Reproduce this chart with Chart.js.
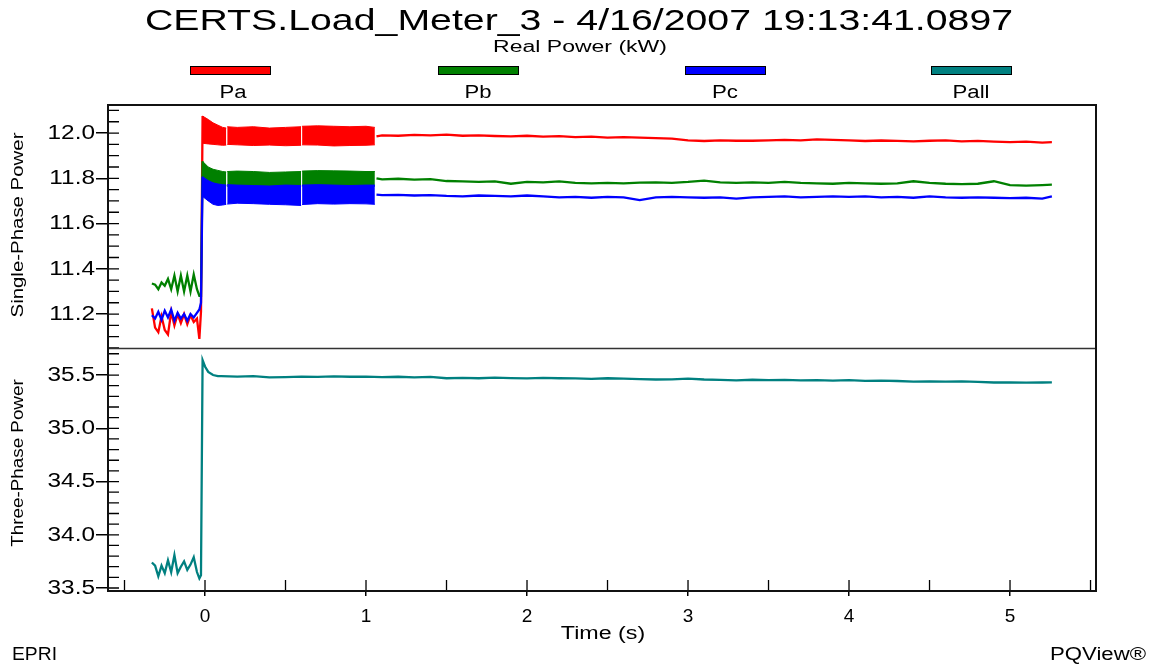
<!DOCTYPE html>
<html lang="en">
<head>
<meta charset="UTF-8">
<title>CERTS.Load_Meter_3 - Real Power (kW)</title>
<script src="https://cdn.jsdelivr.net/npm/chart.js"></script>
<style>
  html, body { margin: 0; padding: 0; background: #fff; }
  .page { position: relative; width: 1156px; height: 666px; overflow: hidden;
          font-family: 'Liberation Sans', Arial, sans-serif; color: #000; }
  #grafico { position: absolute; left: 0; top: 0; }
  .txt { position: absolute; white-space: nowrap; line-height: 1; }
  .caixa { position: absolute; top: 66px; width: 79px; height: 7px; border: 1px solid #000; }
</style>
</head>
<body>
<div class="page">
  <canvas id="grafico" width="1156" height="666"></canvas>

  <div class="txt" style="left:579px;top:5px;font-size:30px" data-w="868">CERTS.Load_Meter_3 - 4/16/2007 19:13:41.0897</div>
  <div class="txt" style="left:580px;top:39px;font-size:16px" data-w="174">Real Power (kW)</div>

  <div class="caixa" style="left:190px;background:#ff0000"></div>
  <div class="caixa" style="left:438px;background:#008000"></div>
  <div class="caixa" style="left:685px;background:#0000ff"></div>
  <div class="caixa" style="left:931px;background:#008080"></div>
  <div class="txt" style="left:233px;top:83px;font-size:18px" data-w="27">Pa</div>
  <div class="txt" style="left:478px;top:83px;font-size:18px" data-w="27">Pb</div>
  <div class="txt" style="left:725px;top:83px;font-size:18px" data-w="26">Pc</div>
  <div class="txt" style="left:971px;top:83px;font-size:18px" data-w="37">Pall</div>

  <div class="txt" style="left:18px;top:225px;font-size:16px" data-w="185" data-rot="1">Single-Phase Power</div>
  <div class="txt" style="left:18px;top:463px;font-size:16px" data-w="167" data-rot="1">Three-Phase Power</div>

  <div class="txt" style="left:603px;top:624px;font-size:18px" data-w="84">Time (s)</div>
  <div class="txt" style="left:12px;top:645px;font-size:18px;transform-origin:left" data-w="45" data-left="1">EPRI</div>
  <div class="txt" style="left:1050px;top:645px;font-size:18px;transform-origin:left" data-w="96" data-left="1">PQView®</div>
</div>

<script>
// tick labels
const xTickVals = [0, 1, 2, 3, 4, 5];
const phaseTickVals = [11.2, 11.4, 11.6, 11.8, 12.0];
const totalTickVals = [33.5, 34.0, 34.5, 35.0, 35.5];

// before the load step (s)
const timePre = [-0.33, -0.31, -0.29, -0.27, -0.25, -0.23, -0.21, -0.19, -0.17, -0.15,
                 -0.13, -0.11, -0.09, -0.07, -0.05, -0.035, -0.025, -0.015];
const paPre = [11.225, 11.14, 11.12, 11.19, 11.13, 11.11, 11.21, 11.15, 11.20, 11.16,
               11.20, 11.155, 11.195, 11.165, 11.18, 11.09, 11.21, 12.075];
const pbPre = [11.335, 11.33, 11.31, 11.34, 11.325, 11.355, 11.31, 11.37, 11.30, 11.37,
               11.30, 11.37, 11.30, 11.375, 11.31, 11.28, 11.28, 11.875];
const pcPre = [11.195, 11.18, 11.21, 11.175, 11.215, 11.185, 11.22, 11.17, 11.205, 11.18,
               11.20, 11.17, 11.20, 11.185, 11.205, 11.22, 11.25, 11.807];
const pallPre = [33.74, 33.71, 33.61, 33.71, 33.64, 33.76, 33.65, 33.81, 33.64, 33.70,
                 33.75, 33.67, 33.72, 33.79, 33.65, 33.59, 33.62, 35.64];

// oscillating interval right after the step: upper / lower envelopes (null = dropout)
const timeBand = [-0.015, 0.02, 0.05, 0.08, 0.11, 0.132, 0.135, 0.138, 0.2, 0.3,
                  0.4, 0.5, 0.597, 0.6, 0.603, 0.7, 0.8, 0.9, 1.0, 1.055];
const paBandHi = [12.075, 12.06, 12.045, 12.035, 12.025, 12.022, null, 12.028, 12.025, 12.028,
                  12.022, 12.025, 12.028, null, 12.03, 12.032, 12.03, 12.028, 12.03, 12.025];
const paBandLo = [11.955, 11.952, 11.95, 11.948, 11.946, 11.947, null, 11.95, 11.948, 11.945,
                  11.947, 11.944, 11.946, null, 11.948, 11.947, 11.943, 11.945, 11.946, 11.948];
const pbBandHi = [11.875, 11.85, 11.84, 11.835, 11.83, 11.828, null, 11.83, 11.832, 11.83,
                  11.826, 11.828, 11.83, null, 11.832, 11.834, 11.833, 11.832, 11.83, 11.83];
const pbBandLo = [11.77, 11.765, 11.762, 11.765, 11.764, 11.766, null, 11.765, 11.763, 11.766,
                  11.764, 11.762, 11.764, null, 11.766, 11.765, 11.763, 11.766, 11.764, 11.765];
const pcBandHi = [11.807, 11.79, 11.78, 11.775, 11.772, 11.77, null, 11.772, 11.77, 11.768,
                  11.766, 11.77, 11.768, null, 11.77, 11.772, 11.77, 11.768, 11.77, 11.77];
const pcBandLo = [11.72, 11.70, 11.685, 11.68, 11.682, 11.685, null, 11.686, 11.69, 11.688,
                  11.685, 11.683, 11.68, null, 11.684, 11.688, 11.686, 11.688, 11.687, 11.685];

// settled part
const timeSteady = [1.065, 1.1, 1.2, 1.3, 1.4, 1.5, 1.6, 1.7, 1.8, 1.9, 2.0,
                    2.1, 2.2, 2.3, 2.4, 2.5, 2.6, 2.7, 2.8, 2.9, 3.0,
                    3.1, 3.2, 3.3, 3.4, 3.5, 3.6, 3.7, 3.8, 3.9, 4.0,
                    4.1, 4.2, 4.3, 4.4, 4.5, 4.6, 4.7, 4.8, 4.9, 5.0,
                    5.1, 5.2, 5.26];
const paSteady = [11.985, 11.99, 11.988, 11.992, 11.99, 11.993, 11.988, 11.99, 11.987, 11.985, 11.988,
                  11.984, 11.986, 11.982, 11.984, 11.98, 11.982, 11.98, 11.978, 11.975, 11.968,
                  11.965, 11.968, 11.966, 11.966, 11.968, 11.97, 11.968, 11.972, 11.97, 11.968,
                  11.965, 11.967, 11.965, 11.963, 11.966, 11.968, 11.963, 11.965, 11.962, 11.96,
                  11.962, 11.958, 11.96];
const pbSteady = [11.80, 11.795, 11.798, 11.794, 11.796, 11.788, 11.786, 11.784, 11.786, 11.776, 11.784,
                  11.782, 11.786, 11.78, 11.778, 11.78, 11.778, 11.781, 11.782, 11.78, 11.784,
                  11.79, 11.782, 11.78, 11.782, 11.78, 11.784, 11.78, 11.778, 11.776, 11.78,
                  11.778, 11.776, 11.778, 11.787, 11.78, 11.776, 11.774, 11.776, 11.787, 11.77,
                  11.768, 11.77, 11.772];
const pcSteady = [11.728, 11.726, 11.727, 11.724, 11.726, 11.722, 11.72, 11.724, 11.722, 11.72, 11.724,
                  11.72, 11.716, 11.718, 11.714, 11.718, 11.716, 11.704, 11.716, 11.718, 11.716,
                  11.714, 11.716, 11.71, 11.716, 11.718, 11.72, 11.716, 11.718, 11.72, 11.718,
                  11.72, 11.716, 11.718, 11.714, 11.72, 11.716, 11.714, 11.716, 11.714, 11.712,
                  11.714, 11.71, 11.72];

const timePall = [0.0, 0.02, 0.05, 0.08, 0.1, 0.2, 0.3, 0.4, 0.5, 0.6, 0.7, 0.8, 0.9, 1.0,
                  1.1, 1.2, 1.3, 1.4, 1.5, 1.6, 1.7, 1.8, 1.9, 2.0,
                  2.1, 2.2, 2.3, 2.4, 2.5, 2.6, 2.7, 2.8, 2.9, 3.0,
                  3.1, 3.2, 3.3, 3.4, 3.5, 3.6, 3.7, 3.8, 3.9, 4.0,
                  4.1, 4.2, 4.3, 4.4, 4.5, 4.6, 4.7, 4.8, 4.9, 5.0,
                  5.1, 5.2, 5.26];
const pallPost = [35.58, 35.53, 35.50, 35.49, 35.49, 35.485, 35.49, 35.478, 35.48, 35.485, 35.482, 35.488, 35.484, 35.486,
                  35.48, 35.484, 35.478, 35.482, 35.47, 35.474, 35.47, 35.476, 35.472, 35.468,
                  35.474, 35.47, 35.468, 35.464, 35.47, 35.466, 35.462, 35.458, 35.46, 35.466,
                  35.458, 35.454, 35.45, 35.456, 35.452, 35.455, 35.45, 35.452, 35.448, 35.452,
                  35.446, 35.448, 35.444, 35.438, 35.44, 35.438, 35.44, 35.435, 35.43, 35.432,
                  35.428, 35.43, 35.432];

const RED = '#ff0000', GREEN = '#008000', BLUE = '#0000ff', TEAL = '#008080';

function pts(ts, vs) {
  return ts.map((t, i) => ({ x: t, y: vs[i] }));
}

// pre-step + settled trace, broken across the oscillating interval
function traceSet(pre, steady, color, order) {
  return {
    data: [...pts(timePre, pre), { x: 0.5, y: null }, ...pts(timeSteady, steady)],
    yAxisID: 'y', borderColor: color, borderWidth: 2.3, pointRadius: 0,
    fill: false, order: order
  };
}
function bandSets(hi, lo, color, order) {
  return [
    { data: pts(timeBand, hi), yAxisID: 'y', borderColor: color, borderWidth: 1,
      pointRadius: 0, fill: false, order: order },
    { data: pts(timeBand, lo), yAxisID: 'y', borderColor: color, borderWidth: 1,
      pointRadius: 0, fill: '-1', backgroundColor: color, order: order }
  ];
}

const datasets = [
  traceSet(pcPre, pcSteady, BLUE, 1),
  ...bandSets(pcBandHi, pcBandLo, BLUE, 1),
  traceSet(pbPre, pbSteady, GREEN, 2),
  ...bandSets(pbBandHi, pbBandLo, GREEN, 2),
  traceSet(paPre, paSteady, RED, 3),
  ...bandSets(paBandHi, paBandLo, RED, 3),
  { data: [...pts(timePre, pallPre), ...pts(timePall, pallPost)], yAxisID: 'y2',
    borderColor: TEAL, borderWidth: 2.3, pointRadius: 0, fill: false, order: 0 }
];

function fixTicks(vals) {
  return scale => { scale.ticks = vals.map(v => ({ value: v })); };
}

function minorTicks(scale, step) {
  const out = [];
  const k0 = Math.ceil(scale.min / step - 1e-6), k1 = Math.floor(scale.max / step + 1e-6);
  for (let k = k0; k <= k1; k++) out.push(scale.getPixelForValue(k * step));
  return out;
}

// frame, panel divider, inward tick marks and the wide y tick labels
const moldura = {
  id: 'moldura',
  afterDraw(chart) {
    const { ctx, chartArea: a, scales } = chart;
    ctx.save();
    ctx.strokeStyle = '#000';
    ctx.lineWidth = 1.3;
    ctx.beginPath();
    minorTicks(scales.y, 0.05).forEach(p => { ctx.moveTo(a.left, p); ctx.lineTo(a.left + 11, p); });
    minorTicks(scales.y2, 0.1).forEach(p => { ctx.moveTo(a.left, p); ctx.lineTo(a.left + 11, p); });
    minorTicks(scales.x, 0.5).forEach(p => { ctx.moveTo(p, a.bottom); ctx.lineTo(p, a.bottom - 11); });
    ctx.stroke();

    ctx.strokeStyle = '#333';
    ctx.lineWidth = 1.5;
    ctx.beginPath();
    const mid = Math.round(scales.y.bottom) + 0.5;
    ctx.moveTo(a.left, mid);
    ctx.lineTo(a.right, mid);
    ctx.stroke();

    ctx.strokeStyle = '#111';
    ctx.lineWidth = 2;
    ctx.strokeRect(a.left, a.top, a.right - a.left, a.bottom - a.top);

    ctx.fillStyle = '#000';
    ctx.font = "19.5px 'Liberation Sans', Arial, sans-serif";
    ctx.textAlign = 'right';
    ctx.textBaseline = 'middle';
    [scales.y, scales.y2].forEach(sc => {
      sc.ticks.forEach(t => {
        ctx.save();
        ctx.translate(a.left - 13, sc.getPixelForValue(t.value) + 0.5);
        ctx.scale(1.25, 1);
        ctx.fillText(t.value.toFixed(1), 0, 0);
        ctx.restore();
      });
    });
    ctx.restore();
  }
};

const yGrid = { drawOnChartArea: false, tickLength: 12, color: '#000', lineWidth: 1.5 };

new Chart(document.getElementById('grafico'), {
  type: 'line',
  data: { datasets: datasets },
  plugins: [moldura],
  options: {
    responsive: false,
    animation: false,
    events: [],
    spanGaps: false,
    layout: { padding: { top: 105, right: 60, left: 0, bottom: 0 } },
    plugins: {
      legend: { display: false },
      tooltip: { enabled: false },
      filler: { drawTime: 'beforeDatasetDraw' }
    },
    scales: {
      x: {
        type: 'linear', min: -0.6025, max: 5.534,
        afterBuildTicks: fixTicks(xTickVals),
        afterFit: s => { s.height = 75; },
        border: { display: false },
        grid: { drawOnChartArea: false, tickLength: 5, color: '#000', lineWidth: 1.5 },
        ticks: { color: '#000', font: { family: "'Liberation Sans', Arial, sans-serif", size: 19 },
                 padding: 9, maxRotation: 0, callback: v => String(v) }
      },
      y2: {
        type: 'linear', position: 'left', stack: 'power', stackWeight: 1,
        min: 33.472, max: 35.754,
        afterBuildTicks: fixTicks(totalTickVals),
        afterFit: s => { s.width = 108; },
        border: { display: false },
        grid: yGrid,
        ticks: { display: false }
      },
      y: {
        type: 'linear', position: 'left', stack: 'power', stackWeight: 1,
        min: 11.05, max: 12.124,
        afterBuildTicks: fixTicks(phaseTickVals),
        afterFit: s => { s.width = 108; },
        border: { display: false },
        grid: yGrid,
        ticks: { display: false }
      }
    }
  }
});

// squeeze / stretch the overlay captions to their widths
document.querySelectorAll('[data-w]').forEach(el => {
  const s = (+el.dataset.w / el.offsetWidth).toFixed(3);
  if (el.dataset.rot) el.style.transform = 'translate(-50%,-50%) rotate(-90deg) scaleX(' + s + ')';
  else if (el.dataset.left) el.style.transform = 'scaleX(' + s + ')';
  else el.style.transform = 'translateX(-50%) scaleX(' + s + ')';
});
</script>
</body>
</html>
